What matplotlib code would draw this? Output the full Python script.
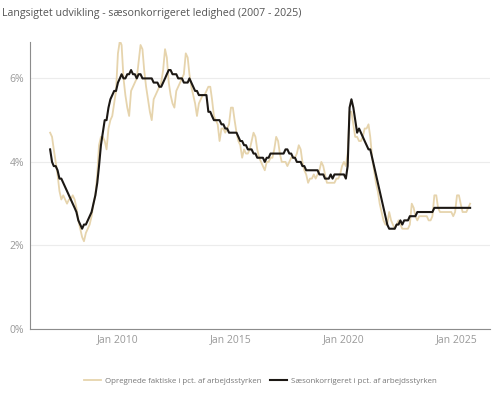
import numpy as np
import pandas as pd
import matplotlib
matplotlib.use("Agg")
import matplotlib.pyplot as plt
import matplotlib.dates as mdates

plt.rcParams['font.family'] = ['Open Sans', 'DejaVu Sans']

# monthly data, Jan 2007 - Aug 2025
months = pd.date_range("2007-01-01", "2025-08-01", freq="MS")

faktisk = [
    4.7, 4.6, 4.3, 4.0, 3.7, 3.3, 3.1, 3.2, 3.1, 3.0, 3.1, 3.1,   # 2007
    3.2, 3.1, 2.9, 2.6, 2.4, 2.2, 2.1, 2.3, 2.4, 2.5, 2.7, 3.0,   # 2008
    3.2, 3.7, 4.4, 4.6, 4.6, 4.5, 4.3, 4.8, 5.0, 5.1, 5.4, 5.7,   # 2009
    6.6, 6.9, 6.8, 6.0, 5.6, 5.3, 5.1, 5.7, 5.8, 5.9, 6.0, 6.4,   # 2010
    6.8, 6.7, 6.2, 5.8, 5.5, 5.2, 5.0, 5.5, 5.6, 5.7, 5.8, 5.9,   # 2011
    6.2, 6.7, 6.5, 5.9, 5.6, 5.4, 5.3, 5.7, 5.8, 5.9, 6.0, 6.1,   # 2012
    6.6, 6.5, 6.1, 5.8, 5.6, 5.4, 5.1, 5.4, 5.5, 5.6, 5.6, 5.7,   # 2013
    5.8, 5.8, 5.5, 5.1, 5.0, 4.9, 4.5, 4.8, 4.8, 4.7, 4.8, 4.9,   # 2014
    5.3, 5.3, 5.0, 4.7, 4.5, 4.4, 4.1, 4.3, 4.2, 4.2, 4.3, 4.5,   # 2015
    4.7, 4.6, 4.3, 4.1, 4.0, 3.9, 3.8, 4.0, 4.0, 4.1, 4.1, 4.3,   # 2016
    4.6, 4.5, 4.2, 4.0, 4.0, 4.0, 3.9, 4.0, 4.1, 4.1, 4.1, 4.2,   # 2017
    4.4, 4.3, 4.0, 3.8, 3.7, 3.5, 3.6, 3.6, 3.7, 3.6, 3.7, 3.8,   # 2018
    4.0, 3.9, 3.7, 3.5, 3.5, 3.5, 3.5, 3.5, 3.6, 3.6, 3.7, 3.9,   # 2019
    4.0, 3.9, 4.2, 5.2, 5.2, 4.9, 4.6, 4.6, 4.5, 4.5, 4.6, 4.8,   # 2020
    4.8, 4.9, 4.6, 4.1, 3.8, 3.5, 3.3, 3.0, 2.8, 2.6, 2.5, 2.5,   # 2021
    2.8, 2.6, 2.5, 2.4, 2.5, 2.6, 2.5, 2.4, 2.4, 2.4, 2.4, 2.5,   # 2022
    3.0, 2.9, 2.7, 2.6, 2.7, 2.7, 2.7, 2.7, 2.7, 2.6, 2.6, 2.7,   # 2023
    3.2, 3.2, 2.9, 2.8, 2.8, 2.8, 2.8, 2.8, 2.8, 2.8, 2.7, 2.8,   # 2024
    3.2, 3.2, 3.0, 2.8, 2.8, 2.8, 2.9, 3.0,                       # 2025
]

saeson = [
    4.3, 4.0, 3.9, 3.9, 3.8, 3.6, 3.6, 3.5, 3.4, 3.3, 3.2, 3.1,   # 2007
    3.0, 2.9, 2.8, 2.6, 2.5, 2.4, 2.5, 2.5, 2.6, 2.7, 2.8, 3.0,   # 2008
    3.2, 3.5, 3.9, 4.4, 4.7, 5.0, 5.0, 5.3, 5.5, 5.6, 5.7, 5.7,   # 2009
    5.9, 6.0, 6.1, 6.0, 6.0, 6.1, 6.1, 6.2, 6.1, 6.1, 6.0, 6.1,   # 2010
    6.1, 6.0, 6.0, 6.0, 6.0, 6.0, 6.0, 5.9, 5.9, 5.9, 5.8, 5.8,   # 2011
    5.9, 6.0, 6.1, 6.2, 6.2, 6.1, 6.1, 6.1, 6.0, 6.0, 6.0, 5.9,   # 2012
    5.9, 5.9, 6.0, 5.9, 5.8, 5.7, 5.7, 5.6, 5.6, 5.6, 5.6, 5.6,   # 2013
    5.2, 5.2, 5.1, 5.0, 5.0, 5.0, 5.0, 4.9, 4.9, 4.8, 4.8, 4.7,   # 2014
    4.7, 4.7, 4.7, 4.7, 4.6, 4.5, 4.5, 4.4, 4.4, 4.3, 4.3, 4.3,   # 2015
    4.2, 4.2, 4.1, 4.1, 4.1, 4.1, 4.0, 4.1, 4.1, 4.2, 4.2, 4.2,   # 2016
    4.2, 4.2, 4.2, 4.2, 4.2, 4.3, 4.3, 4.2, 4.2, 4.1, 4.1, 4.0,   # 2017
    4.0, 4.0, 3.9, 3.9, 3.8, 3.8, 3.8, 3.8, 3.8, 3.8, 3.8, 3.7,   # 2018
    3.7, 3.7, 3.6, 3.6, 3.6, 3.7, 3.6, 3.7, 3.7, 3.7, 3.7, 3.7,   # 2019
    3.7, 3.6, 3.9, 5.3, 5.5, 5.3, 5.0, 4.7, 4.8, 4.7, 4.6, 4.5,   # 2020
    4.4, 4.3, 4.3, 4.1, 3.9, 3.7, 3.5, 3.3, 3.1, 2.9, 2.7, 2.5,   # 2021
    2.4, 2.4, 2.4, 2.4, 2.5, 2.5, 2.6, 2.5, 2.6, 2.6, 2.6, 2.7,   # 2022
    2.7, 2.7, 2.7, 2.8, 2.8, 2.8, 2.8, 2.8, 2.8, 2.8, 2.8, 2.8,   # 2023
    2.9, 2.9, 2.9, 2.9, 2.9, 2.9, 2.9, 2.9, 2.9, 2.9, 2.9, 2.9,   # 2024
    2.9, 2.9, 2.9, 2.9, 2.9, 2.9, 2.9, 2.9,                       # 2025
]

labels = ["Opregnede faktiske i pct. af arbejdsstyrken",
          "Sæsonkorrigeret i pct. af arbejdsstyrken"]
tick_years = [2010, 2015, 2020, 2025]

fig = plt.figure(figsize=(4.96, 3.93), dpi=100)
ax = fig.add_axes([0.0605, 0.163, 0.927, 0.731])

ax.plot(months, faktisk, color="#e6d4ad", lw=1.3, label=labels[0])
ax.plot(months, saeson, color="#1c1814", lw=1.5, label=labels[1])

ax.set_ylim(0, 6.88)
ax.set_yticks([0, 2, 4, 6])
ax.set_yticklabels(["0%", "2%", "4%", "6%"])
ax.set_xlim(pd.Timestamp("2006-02-10"), pd.Timestamp("2026-06-15"))
ax.set_xticks([pd.Timestamp(f"{y}-01-01") for y in tick_years])
ax.xaxis.set_major_formatter(mdates.DateFormatter("Jan %Y"))

ax.grid(axis="y", color="#ececec", lw=0.8)
ax.set_axisbelow(True)
for s in ["top", "right"]:
    ax.spines[s].set_visible(False)
ax.spines["left"].set_color("#8c8c8c")
ax.spines["bottom"].set_color("#8c8c8c")
ax.tick_params(length=0, colors="#999999", labelsize=7.5, pad=4)

fig.text(0.004, 0.965, "Langsigtet udvikling - sæsonkorrigeret ledighed (2007 - 2025)",
         fontsize=7.7, color="#555555", va="center", ha="left")

fig.legend(loc="center", bbox_to_anchor=(0.525, 0.03), ncol=2, frameon=False,
           fontsize=5.7, labelcolor="#777777", handlelength=2.2, columnspacing=1.0,
           handletextpad=0.5)

fig.savefig("out.png", dpi=100)
